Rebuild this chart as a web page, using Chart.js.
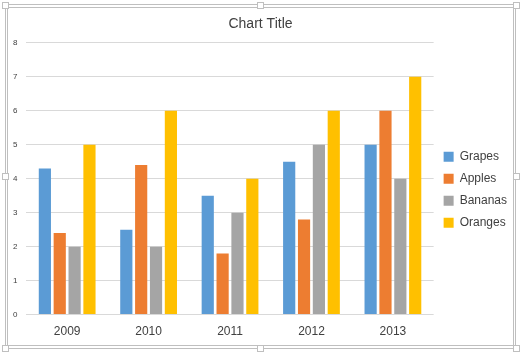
<!DOCTYPE html>
<html>
<head>
<meta charset="utf-8">
<script src="https://cdn.jsdelivr.net/npm/chart.js@4"></script>
<style>
  html, body { margin: 0; padding: 0; background: #fff; }
  #wrap { position: relative; width: 521px; height: 353px; }
</style>
</head>
<body>
<div id="wrap"><canvas id="chart" width="521" height="353"></canvas></div>
<script>
const years = ["2009", "2010", "2011", "2012", "2013"];
const grapes = [4.3, 2.5, 3.5, 4.5, 5];
const apples = [2.4, 4.4, 1.8, 2.8, 6];
const bananas = [2, 2, 3, 5, 4];
const oranges = [5, 6, 4, 6, 7];
const seriesNames = ["Grapes", "Apples", "Bananas", "Oranges"];
const seriesColors = ["#5B9BD5", "#ED7D31", "#A5A5A5", "#FFC000"];

const font = "'Liberation Sans', Arial, sans-serif";

// frame and selection handles like the office chart object
const frame = {
    id: 'frame',
    beforeDraw(chart) {
        const ctx = chart.ctx;
        ctx.save();
        ctx.fillStyle = '#fff';
        ctx.fillRect(0, 0, chart.width, chart.height);
        ctx.restore();
    },
    afterDraw(chart) {
        const ctx = chart.ctx;
        ctx.save();
        ctx.strokeStyle = '#BFBFBF';
        ctx.lineWidth = 1;
        ctx.strokeRect(5.5, 4.5, 510, 344);
        ctx.strokeRect(7.5, 7.5, 506, 338);
        const pts = [
            [5, 5], [260, 5], [516, 5],
            [5, 176], [516, 176],
            [5, 348], [260, 348], [516, 348]
        ];
        ctx.fillStyle = '#fff';
        pts.forEach(p => {
            ctx.fillRect(p[0] - 3, p[1] - 3, 6, 6);
            ctx.strokeRect(p[0] - 2.5, p[1] - 2.5, 6, 6);
        });
        ctx.restore();
    }
};

const myChart = new Chart("chart", {
    type: "bar",
    data: {
        labels: years,
        datasets: [grapes, apples, bananas, oranges].map((d, i) => ({
            label: seriesNames[i],
            data: d,
            backgroundColor: seriesColors[i],
            borderWidth: 0,
            categoryPercentage: 0.73,
            barPercentage: 0.82
        }))
    },
    options: {
        responsive: false,
        animation: false,
        layout: { padding: { left: 4, right: 4, top: 10, bottom: 12 } },
        plugins: {
            title: {
                display: true,
                text: "Chart Title",
                color: '#404040',
                font: { family: font, size: 14, weight: 'normal' },
                padding: { top: 6, bottom: 10 }
            },
            legend: {
                position: 'right',
                title: {
                    display: true,
                    text: ' ',
                    font: { family: font, size: 12 },
                    padding: { top: 7, bottom: 7 }
                },
                labels: {
                    boxWidth: 10,
                    boxHeight: 10,
                    padding: 10,
                    color: '#404040',
                    font: { family: font, size: 12 }
                }
            },
            tooltip: { enabled: false }
        },
        scales: {
            x: {
                grid: { display: false },
                border: { display: false },
                ticks: {
                    color: '#404040',
                    padding: 2,
                    font: { family: font, size: 12 }
                }
            },
            y: {
                min: 0,
                max: 8,
                ticks: {
                    stepSize: 1,
                    color: '#404040',
                    padding: 9,
                    font: { family: font, size: 8 }
                },
                grid: { color: '#D9D9D9', drawTicks: false },
                border: { display: false }
            }
        }
    },
    plugins: [frame]
});
</script>
</body>
</html>
